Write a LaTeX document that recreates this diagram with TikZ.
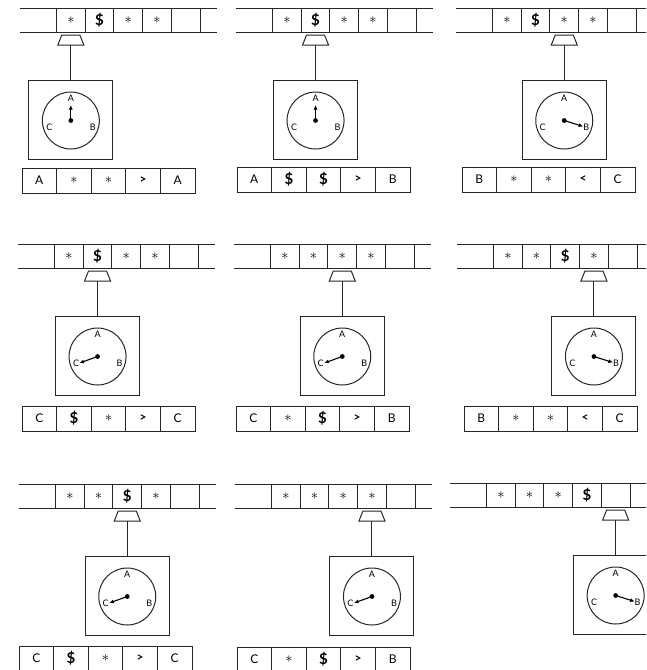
\documentclass[tikz,border=0pt]{standalone}
\usepackage{fontspec}
\setmainfont{Lato}
\usetikzlibrary{arrows.meta}
\tikzset{
  ln/.style={line width=1pt, black!85},
  txt/.style={inner sep=0pt, font=\fontsize{12}{12}\selectfont},
  clk/.style={inner sep=0pt, font=\fontsize{9}{9}\selectfont},
  hand/.style={line width=1.1pt, -{Latex[length=4.5pt,width=4pt]}},
  boxst/.style={draw, ln, minimum width=84pt, minimum height=79pt, inner sep=0pt},
  clockst/.style={draw, ln, circle, minimum size=57pt, inner sep=0pt}
}
\newcommand\sy{\fontsize{15}{15}\selectfont\bfseries\$}
\newcommand\as{{\Large$\ast$}}
\newcommand\gt{{\bfseries >}}
\newcommand\lt{{\bfseries <}}
% tape: #1 name, #2 ox, #3 oy, #4 cell list
\newcommand\tmtape[4]{%
  \draw[ln] (#2,#3) -- ++(197,0) (#2,#3+24) -- ++(197,0);
  \foreach \k in {0,...,5} \draw[ln] (#2+36.5+28.7*\k,#3) -- ++(0,24);
  \foreach \t [count=\i from 0] in {#4}
    \node[txt] (#1t\i) at (#2+36.5+28.7*\i+14.35,#3+12) {\t};
}
% machine: #1 name, #2 ox, #3 oy, #4 head index, #5 hand vector
\newcommand\tmmachine[5]{%
  \pgfmathsetmacro\cx{#2+36.5+28.7*(#4+0.5)}
  \coordinate (#1headtop) at (\cx,#3+27);
  \coordinate (#1headbot) at (\cx,#3+37);
  \draw[ln] (\cx-9,#3+27) -- (\cx+9,#3+27) -- (\cx+13,#3+37) -- (\cx-13,#3+37) -- cycle;
  \node[boxst] (#1box) at (\cx,#3+111.5) {};
  \draw[ln] (#1headbot) -- (#1box.north);
  \node[clockst] (#1clock) at (\cx,#3+112.5) {};
  \node[clk] (#1A) at (\cx,#3+112.5-22) {A};
  \node[clk] (#1B) at (\cx+22,#3+112.5+6.5) {B};
  \node[clk] (#1C) at (\cx-21.5,#3+112.5+6.5) {C};
  \fill (#1clock.center) circle (2.4);
  \draw[hand] (#1clock.center) -- ++#5;
}
% table: #1 name, #2 x, #3 y, #4 list
\newcommand\tmtable[4]{%
  \draw[ln] (#2,#3) rectangle ++(173,25);
  \foreach \k in {1,...,4} \draw[ln] (#2+34.6*\k,#3) -- ++(0,25);
  \foreach \t [count=\i from 0] in {#4}
    \node[txt] (#1r\i) at (#2+34.6*\i+17.3,#3+12.5) {\t};
}
\newcommand\hA{(0,-15.5)}
\newcommand\hB{(19,6)}
\newcommand\hC{(-18,6.5)}
\begin{document}
\begin{tikzpicture}[x=1pt,y=-1pt]
\useasboundingbox (0,0) rectangle (646,670);
\clip (0,0) rectangle (646,670);
% row 1
\tmtape{pa}{20}{8}{\as,\sy,\as,\as,{},{}}
\tmmachine{pa}{20}{8}{0}{\hA}
\tmtable{pa}{22}{168}{A,\as,\as,\gt,A}
\tmtape{pb}{236}{8}{\as,\sy,\as,\as,{},{}}
\tmmachine{pb}{236}{8}{1}{\hA}
\tmtable{pb}{237}{167}{A,\sy,\sy,\gt,B}
\tmtape{pc}{456}{8}{\as,\sy,\as,\as,{},{}}
\tmmachine{pc}{456}{8}{2}{\hB}
\tmtable{pc}{462}{167}{B,\as,\as,\lt,C}
% row 2
\tmtape{pd}{18}{244}{\as,\sy,\as,\as,{},{}}
\tmmachine{pd}{18}{244}{1}{\hC}
\tmtable{pd}{22}{406}{C,\sy,\as,\gt,C}
\tmtape{pe}{234}{244}{\as,\as,\as,\as,{},{}}
\tmmachine{pe}{234}{244}{2}{\hC}
\tmtable{pe}{236}{406}{C,\as,\sy,\gt,B}
\tmtape{pf}{457}{244}{\as,\as,\sy,\as,{},{}}
\tmmachine{pf}{457}{244}{3}{\hB}
\tmtable{pf}{464}{406}{B,\as,\as,\lt,C}
% row 3
\tmtape{pg}{19}{484}{\as,\as,\sy,\as,{},{}}
\tmmachine{pg}{19}{484}{2}{\hC}
\tmtable{pg}{19}{646}{C,\sy,\as,\gt,C}
\tmtape{ph}{235}{484}{\as,\as,\as,\as,{},{}}
\tmmachine{ph}{235}{484}{3}{\hC}
\tmtable{ph}{237}{647}{C,\as,\sy,\gt,B}
\tmtape{pi}{450}{483}{\as,\as,\as,\sy,{},{}}
\tmmachine{pi}{450}{483}{4}{\hB}
\end{tikzpicture}
\end{document}
